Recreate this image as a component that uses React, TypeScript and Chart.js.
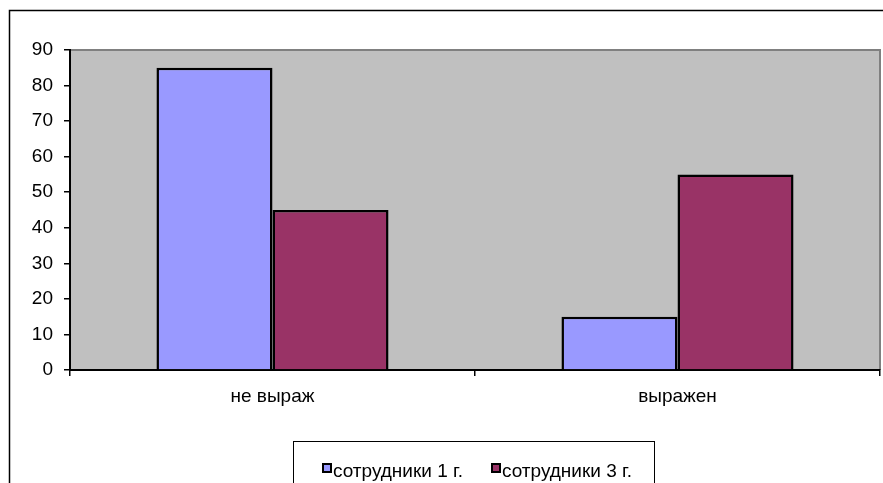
import React, { useEffect, useRef } from "react";
import { Chart, registerables } from "chart.js";

Chart.register(...registerables);

const categories = ["не выраж", "выражен"];
const seriesNames = ["сотрудники 1 г.", "сотрудники 3 г."];
const series1 = [85, 15];
const series2 = [45, 55];
const seriesColors = ["#9999FF", "#993366"];
const yMin = 0;
const yMax = 90;
const yStep = 10;

const FONT = "'Liberation Sans', Arial, sans-serif";

const framePlugin = {
  id: "frame",
  beforeDraw(chart: any) {
    const { ctx, chartArea } = chart;
    ctx.save();
    ctx.fillStyle = "#FFFFFF";
    ctx.fillRect(0, 0, chart.width, chart.height);
    ctx.strokeStyle = "#000000";
    ctx.lineWidth = 1.5;
    ctx.strokeRect(9.5, 10.5, chart.width + 50, chart.height + 50);
    ctx.fillStyle = "#C0C0C0";
    ctx.fillRect(chartArea.left, chartArea.top, chartArea.right - chartArea.left, chartArea.bottom - chartArea.top);
    ctx.strokeStyle = "#808080";
    ctx.lineWidth = 2;
    ctx.beginPath();
    ctx.moveTo(chartArea.left, chartArea.top);
    ctx.lineTo(chartArea.right, chartArea.top);
    ctx.lineTo(chartArea.right, chartArea.bottom);
    ctx.stroke();
    ctx.restore();
  },
  afterDraw(chart: any) {
    const { ctx } = chart;
    ctx.save();
    ctx.strokeStyle = "#000000";
    ctx.lineWidth = 1;
    ctx.strokeRect(293.5, 441.5, 361, 80);
    ctx.font = `19px ${FONT}`;
    ctx.textBaseline = "alphabetic";
    ctx.textAlign = "left";
    const markerX = [323, 492];
    chart.data.datasets.forEach((ds: any, i: number) => {
      const mx = markerX[i];
      ctx.fillStyle = ds.backgroundColor;
      ctx.fillRect(mx, 464, 8, 8);
      ctx.strokeStyle = "#000000";
      ctx.lineWidth = 2;
      ctx.strokeRect(mx, 464, 8, 8);
      ctx.fillStyle = "#000000";
      ctx.fillText(ds.label, mx + 10, 477);
    });
    ctx.restore();
  },
};

export default function App() {
  const ref = useRef<HTMLCanvasElement | null>(null);
  useEffect(() => {
    if (!ref.current) return;
    const chart = new Chart(ref.current, {
      type: "bar",
      data: {
        labels: categories,
        datasets: [
          {
            label: seriesNames[0],
            data: series1,
            backgroundColor: seriesColors[0],
            borderColor: "#000000",
            borderWidth: 2.5,
            categoryPercentage: 0.573,
            barPercentage: 1,
          },
          {
            label: seriesNames[1],
            data: series2,
            backgroundColor: seriesColors[1],
            borderColor: "#000000",
            borderWidth: 2.5,
            categoryPercentage: 0.573,
            barPercentage: 1,
          },
        ],
      },
      options: {
        animation: false,
        responsive: false,
        devicePixelRatio: 1,
        layout: { padding: { top: 50, right: 3, left: 0, bottom: 0 } },
        plugins: { legend: { display: false }, tooltip: { enabled: false } },
        scales: {
          x: {
            afterFit: (s: any) => {
              s.height = 113;
            },
            grid: {
              display: true,
              drawOnChartArea: false,
              drawTicks: true,
              tickLength: 6,
              color: "#000000",
              lineWidth: 1.5,
              offset: true,
            },
            border: { display: true, color: "#000000", width: 2 },
            ticks: {
              color: "#000000",
              font: { family: FONT, size: 19 },
              padding: 9,
              maxRotation: 0,
            },
          },
          y: {
            min: yMin,
            max: yMax,
            afterFit: (s: any) => {
              s.width = 70;
            },
            grid: {
              display: true,
              drawOnChartArea: false,
              drawTicks: true,
              tickLength: 6,
              color: "#000000",
              lineWidth: 1.5,
            },
            border: { display: true, color: "#000000", width: 2 },
            ticks: {
              stepSize: yStep,
              color: "#000000",
              font: { family: FONT, size: 19 },
              padding: 11,
            },
          },
        },
      },
      plugins: [framePlugin],
    });
    return () => chart.destroy();
  }, []);
  return (
    <div style={{ position: "absolute", left: 0, top: 0, width: 883, height: 483 }}>
      <canvas ref={ref} width={883} height={483} style={{ display: "block" }} />
    </div>
  );
}
